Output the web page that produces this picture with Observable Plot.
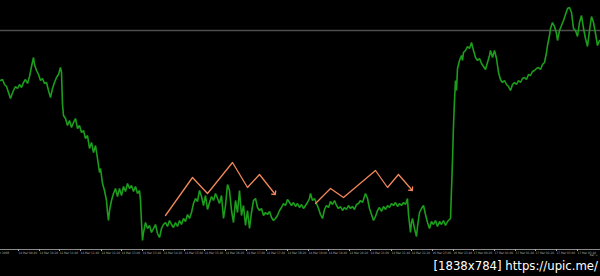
<!DOCTYPE html>
<html>
<head>
<meta charset="utf-8">
<script src="https://cdn.jsdelivr.net/npm/d3@7"></script>
<script src="https://cdn.jsdelivr.net/npm/@observablehq/plot@0.6"></script>
<style>
  html, body { margin: 0; padding: 0; background: #000; }
  body { width: 600px; height: 276px; overflow: hidden; }
  #chart svg { display: block; }
  #mark { height: 18px; line-height: 18px; text-align: right; padding-right: 2px;
    color: #fff; font: 13px "Liberation Sans Narrow", "DejaVu Sans Condensed", sans-serif; }
</style>
</head>
<body>
<div id="chart"></div>
<div id="mark">[1838x784] https://upic.me/</div>
<script>
// bar index (M5 bars) and price (index points)
const bars = [0,2,4,6,8,10,11,13,15,17,19,21,23,25,27,29,31,33,34,36,38,40,42,44,46,48,50,52,54,56,58,60,61,62,63,65,67,69,71,73,75,77,79,81,83,85,87,89,91,93,95,97,99,100,102,104,106,107,108,109,111,113,115,117,119,121,123,125,127,129,131,133,135,137,139,140,141,142,143,145,147,149,151,153,155,157,159,161,163,165,167,169,171,173,175,177,179,181,183,185,187,189,191,193,195,197,199,201,203,205,207,209,211,213,215,217,219,221,223,225,227,229,231,233,235,237,239,241,243,245,247,249,251,253,255,257,259,261,263,265,267,269,271,273,275,277,279,281,283,285,287,289,291,293,295,297,299,301,303,305,307,309,310,312,314,316,318,320,322,324,326,328,330,332,334,336,338,340,342,344,346,348,350,352,354,356,358,360,362,364,365,367,369,371,373,375,377,379,381,383,385,387,389,391,393,395,397,399,401,403,405,407,408,410,411,412,414,416,417,419,421,423,425,427,429,431,433,435,437,439,441,443,445,447,449,450,452,453,454,455,456,457,459,461,462,463,465,467,469,471,473,475,477,479,481,483,485,487,489,490,492,494,496,498,500,502,504,506,508,510,512,514,516,518,520,522,524,526,528,530,532,534,536,538,540,542,544,546,547,549,550,552,554,556,557,559,561,563,565,567,569,571,573,575,577,579,581,583,585,587,589,591,593,595,597,599];
const prices = [169,170,165,163,157,151,154,159,163,161,165,162,167,170,166,173,183,192,185,179,175,169,171,166,167,159,152,161,167,172,175,182,177,145,134,131,124,129,122,127,131,121,124,117,119,111,114,101,107,97,104,91,77,81,66,59,49,37,29,39,49,56,61,53,61,54,63,58,66,61,64,58,63,56,59,49,27,9,17,27,21,24,17,21,25,16,12,21,25,27,23,29,25,22,27,23,29,25,31,28,35,31,37,46,51,48,59,53,44,54,40,47,53,49,56,51,46,54,31,44,65,59,39,27,49,37,59,34,44,24,39,21,37,49,51,42,39,41,34,37,35,38,32,29,31,34,39,42,46,44,50,47,44,47,43,46,42,45,41,44,47,51,56,49,51,46,41,35,31,40,44,42,48,45,49,44,41,43,39,42,40,44,41,43,40,45,46,49,47,53,56,51,41,35,29,33,39,42,38,43,40,44,42,46,44,47,43,46,44,47,45,51,35,17,27,31,21,13,23,37,41,44,35,27,21,28,25,29,23,28,25,29,24,28,30,31,89,124,149,169,159,181,189,194,189,197,199,203,201,207,199,192,189,191,186,183,180,187,194,199,192,199,191,177,170,167,169,165,163,159,165,167,165,169,167,171,172,170,175,174,178,179,181,182,180,185,187,197,204,214,221,227,223,216,209,219,224,229,235,241,242,237,221,219,213,227,234,221,211,203,219,233,227,216,204,209];
const resistance = 219;

// drawn zigzag projections (bar, price)
const zig1Bars = [165,192,207,232,247,259,274];
const zig1Prices = [34,72,56,87,62,75,56];
const zig2Bars = [315,330,343,375,387,398,411];
const zig2Prices = [46,61,52,79,62,75,60];

// time axis labels
const tickBars = [-10,17,38,58,79,100,120,141,162,183,203,224,245,265,286,307,327,348,369,390,410,431,452,472,493,514,534,555,576];
const tickLabels = ["14 Mar 2008","14 Mar 09:40","14 Mar 10:20","14 Mar 11:00","14 Mar 11:40","14 Mar 12:20","14 Mar 13:00","14 Mar 13:40","14 Mar 14:20","14 Mar 15:00","14 Mar 15:40","14 Mar 16:20","14 Mar 17:00","14 Mar 17:40","14 Mar 18:20","14 Mar 19:00","14 Mar 19:40","14 Mar 20:20","14 Mar 21:00","14 Mar 21:40","14 Mar 22:20","16 Mar 23:00","16 Mar 23:40","17 Mar 00:20","17 Mar 01:00","17 Mar 01:40","17 Mar 02:20","17 Mar 03:00","17 Mar 03:40"];

const series = bars.map((b, i) => ({bar: b, price: prices[i]}));
const zig1 = zig1Bars.map((b, i) => ({bar: b, price: zig1Prices[i]}));
const zig2 = zig2Bars.map((b, i) => ({bar: b, price: zig2Prices[i]}));
const labelOf = new Map(tickBars.map((b, i) => [b, tickLabels[i]]));

const chart = Plot.plot({
  width: 600,
  height: 258,
  marginTop: 0,
  marginBottom: 9,
  marginLeft: 0,
  marginRight: 0,
  style: {background: "#000", color: "#a8a8a8", fontFamily: "'Liberation Sans Narrow', 'DejaVu Sans Condensed', sans-serif"},
  x: {domain: [0, 600], axis: null},
  y: {domain: [0, 249], axis: null},
  marks: [
    Plot.ruleY([resistance], {stroke: "#4e4e4e", strokeWidth: 1.6}),
    Plot.line(series, {x: "bar", y: "price", stroke: "#1c9e1c", strokeWidth: 1.6, strokeLinejoin: "miter"}),
    Plot.line(zig1, {x: "bar", y: "price", stroke: "#f3875c", strokeWidth: 1.3, markerEnd: "arrow"}),
    Plot.line(zig2, {x: "bar", y: "price", stroke: "#f3875c", strokeWidth: 1.3, markerEnd: "arrow"}),
    Plot.ruleY([0], {stroke: "#8a8a8a", strokeWidth: 1}),
    Plot.axisX(tickBars, {anchor: "bottom", tickSize: 2, tickPadding: 0.5, fontSize: 3.1, textAnchor: "start", dx: 1,
      tickFormat: d => labelOf.get(d)})
  ]
});
document.getElementById("chart").appendChild(chart);
</script>
</body>
</html>
